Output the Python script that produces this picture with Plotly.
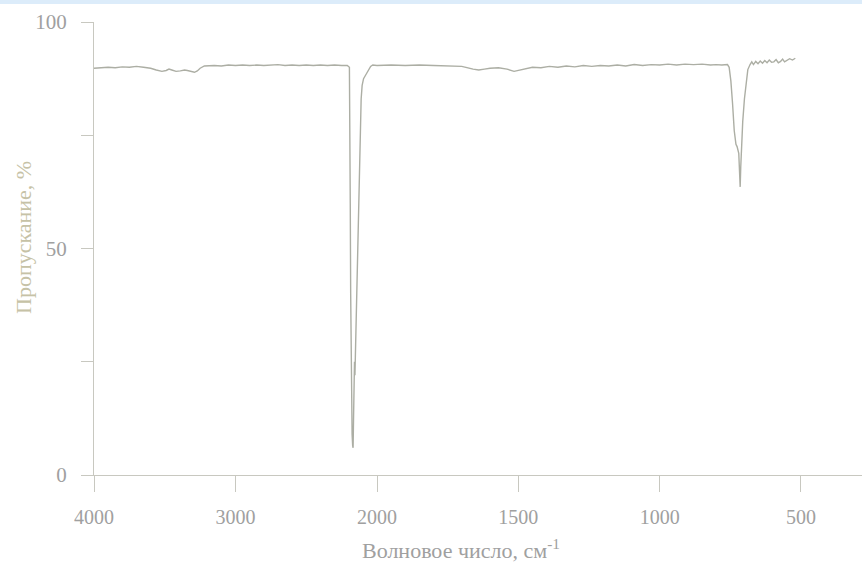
import plotly.graph_objects as go

# IR transmission spectrum, wavenumber (cm-1) vs transmittance (%)
# High-wavenumber part (4000-2000 cm-1), drawn at half scale
wn_high = [4000, 3950, 3900, 3850, 3800, 3750, 3700, 3650, 3600, 3560,
           3520, 3490, 3470, 3450, 3420, 3390, 3360, 3340, 3310, 3290,
           3270, 3250, 3220, 3150, 3100, 3050, 3000, 2950, 2900, 2850,
           2800, 2750, 2700, 2650, 2600, 2550, 2500, 2450, 2400, 2350,
           2300, 2250, 2210, 2195, 2192, 2189, 2186, 2183, 2180, 2176,
           2172, 2169, 2166, 2162, 2159, 2156, 2153, 2150, 2145, 2138,
           2130, 2120, 2112, 2105, 2095, 2080, 2070, 2060, 2045, 2030,
           2000]
tr_high = [89.8, 89.9, 90.0, 89.9, 90.1, 90.0, 90.2, 90.0, 89.8, 89.4,
           89.1, 89.3, 89.6, 89.4, 89.1, 89.2, 89.4, 89.3, 89.0, 88.9,
           89.2, 89.8, 90.3, 90.4, 90.3, 90.5, 90.4, 90.5, 90.4, 90.5,
           90.4, 90.5, 90.6, 90.4, 90.5, 90.4, 90.5, 90.4, 90.5, 90.4,
           90.5, 90.4, 90.4, 90.0, 80.0, 60.0, 40.0, 25.0, 15.0, 9.0,
           6.5, 6.0, 12.0, 20.0, 25.0, 22.0, 26.0, 30.0, 38.0, 50.0,
           62.0, 75.0, 83.0, 86.0, 87.5, 88.3, 88.8, 89.5, 90.2, 90.5,
           90.4]

# Low-wavenumber part (2000-520 cm-1)
wn_low = [2000, 1950, 1900, 1850, 1800, 1750, 1700, 1660, 1640, 1620,
          1600, 1570, 1540, 1515, 1500, 1480, 1450, 1420, 1390, 1360,
          1330, 1300, 1270, 1240, 1210, 1180, 1150, 1120, 1090, 1060,
          1030, 1000, 970, 940, 910, 880, 850, 820, 800,
          780, 760, 754, 748, 742, 736, 730, 726, 720, 717,
          715, 713, 711, 706, 700, 694, 688, 680, 674, 668,
          660, 652, 644, 636, 628, 620, 612, 604, 596, 588,
          580, 572, 565, 558, 550, 540, 530, 520]
tr_low = [90.4, 90.5, 90.4, 90.5, 90.4, 90.3, 90.2, 89.6, 89.4, 89.6,
          89.8, 89.9, 89.6, 89.1, 89.3, 89.7, 90.0, 89.9, 90.2, 90.0,
          90.3, 90.1, 90.4, 90.2, 90.4, 90.3, 90.5, 90.3, 90.6, 90.4,
          90.6, 90.5, 90.7, 90.5, 90.7, 90.6, 90.7, 90.5, 90.6,
          90.5, 90.6, 90.0, 87.0, 82.0, 76.0, 73.0, 72.5, 71.0, 66.0,
          63.6, 68.0, 72.0, 78.0, 83.0, 87.0, 89.5, 90.6, 91.2, 90.6,
          91.3, 90.8, 91.4, 90.9, 91.5, 91.0, 91.6, 91.1, 91.2, 91.7,
          91.0, 91.3, 91.8, 91.2, 91.5, 91.9, 91.6, 92.0]

x_ticks_high = [4000, 3000, 2000]
x_ticks_low = [1500, 1000, 500]
y_ticks = [0, 25, 50, 75, 100]
y_tick_text = ["0", "", "50", "", "100"]

LINE = "#acaea4"
AXIS = "#c8c8c0"
TEXT = "#a0a0a0"
FONT = "Liberation Serif"

fig = go.Figure()
fig.add_trace(go.Scatter(x=wn_high, y=tr_high, mode="lines", xaxis="x", yaxis="y",
                         line=dict(color=LINE, width=1.4), showlegend=False))
fig.add_trace(go.Scatter(x=wn_low, y=tr_low, mode="lines", xaxis="x2", yaxis="y",
                         line=dict(color=LINE, width=1.4), showlegend=False))

split = 283 / 768
axis_common = dict(showline=True, linecolor=AXIS, linewidth=1, ticks="outside",
                   ticklen=16, tickcolor=AXIS, tickwidth=1, showgrid=False,
                   zeroline=False, ticklabelstandoff=8, automargin=False,
                   tickfont=dict(family=FONT, size=20, color=TEXT))

fig.update_layout(
    width=862, height=566, autosize=False,
    margin=dict(l=94, r=0, t=22, b=91),
    paper_bgcolor="white", plot_bgcolor="white",
    xaxis=dict(domain=[0, split], range=[4000, 2000], tickvals=x_ticks_high,
               anchor="y", **axis_common),
    xaxis2=dict(domain=[split, 1], range=[2000, 284], tickvals=x_ticks_low,
                anchor="y", **axis_common),
    yaxis=dict(range=[0, 100], tickvals=y_ticks, ticktext=y_tick_text,
               showline=True, linecolor=AXIS, linewidth=1, ticks="outside",
               ticklen=12, tickcolor=AXIS, tickwidth=1, showgrid=False,
               zeroline=False, ticklabelstandoff=10, automargin=False,
               tickfont=dict(family=FONT, size=21, color=TEXT)),
    # thin light-blue band along the top edge
    shapes=[dict(type="rect", xref="paper", yref="paper",
                 x0=-94 / 768, x1=1, y0=1 + 18 / 453, y1=1 + 22 / 453 + 0.01,
                 fillcolor="#dcecfa", line=dict(width=0), layer="above")],
    annotations=[
        dict(text="Волновое число, см<sup>-1</sup>", xref="paper", yref="paper",
             x=(461 - 94) / 768, y=-(549 - 475) / 453, xanchor="center", yanchor="middle",
             showarrow=False, font=dict(family=FONT, size=22, color=TEXT)),
        dict(text="Пропускание, %", xref="paper", yref="paper",
             x=-(94 - 23) / 768, y=(475 - 238) / 453, xanchor="center", yanchor="middle",
             textangle=-90, showarrow=False, font=dict(family=FONT, size=22, color="#c6c2a6")),
    ],
)

fig.write_html("out.html")
